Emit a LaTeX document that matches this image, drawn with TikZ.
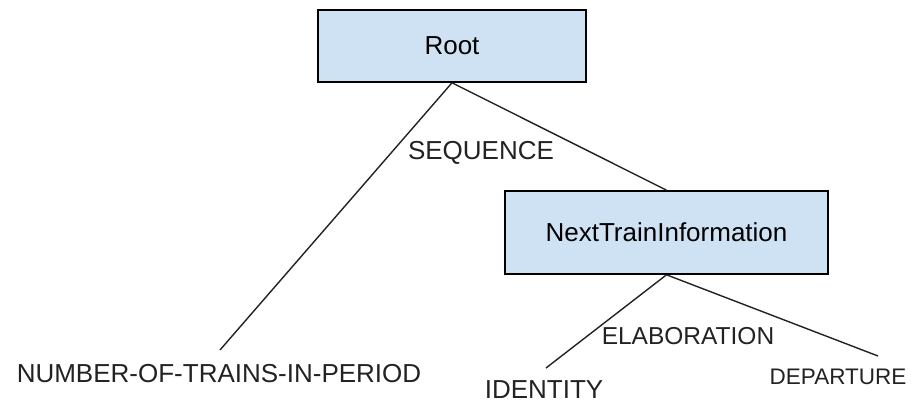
\documentclass[tikz,border=0pt]{standalone}
\usepackage{fontspec}
\setmainfont{Liberation Sans}
\usepackage{xcolor}
\usepackage{tikz}
\usetikzlibrary{positioning, calc}
\definecolor{boxblue}{HTML}{CFE2F3}
\definecolor{inkgray}{HTML}{222222}

\tikzset{
  relbox/.style={draw=black, fill=boxblue, line width=1.6pt, inner sep=0pt, minimum width=#1},
  leaflabel/.style={inkgray, inner sep=0pt, font=\fontsize{26}{26}\selectfont},
  rellabel/.style={inkgray, inner sep=0pt, font=\fontsize{26}{26}\selectfont},
  treeline/.style={inkgray, line width=1.4pt}
}

\begin{document}
\begin{tikzpicture}[x=1pt, y=1pt]
  \useasboundingbox (0,0) rectangle (911,-403);

  % Boxes for the two inner nodes
  \node[relbox=268pt, minimum height=72pt, font=\fontsize{26}{26}\selectfont] (root) at (452,-46) {Root};
  \node[relbox=323pt, minimum height=83pt, font=\fontsize{26}{26}\selectfont] (nexttrain) at (666.5,-232.5) {NextTrainInformation};

  % Leaves
  \node[leaflabel] (numtrains) at (219,-374) {NUMBER-OF-TRAINS-IN-PERIOD};
  \node[leaflabel] (identity) at (544,-390) {IDENTITY};
  \node[leaflabel, font=\fontsize{22.5}{22.5}\selectfont] (departure) at (838,-377) {DEPARTURE};

  % Free line ends above the leaves
  \coordinate (numend) at (220,-350);
  \coordinate (identend) at (546,-368);
  \coordinate (depend) at (878,-356);

  % Relation names
  \node[rellabel] (sequence) at (481,-153) {SEQUENCE};
  \node[rellabel, font=\fontsize{24.5}{24.5}\selectfont] (elaboration) at (688,-336) {ELABORATION};

  % Tree lines
  \draw[treeline] (root.south) -- (numend);
  \draw[treeline] (root.south) -- (nexttrain.north);
  \draw[treeline] (nexttrain.south) -- (identend);
  \draw[treeline] (nexttrain.south) -- (depend);
\end{tikzpicture}
\end{document}
